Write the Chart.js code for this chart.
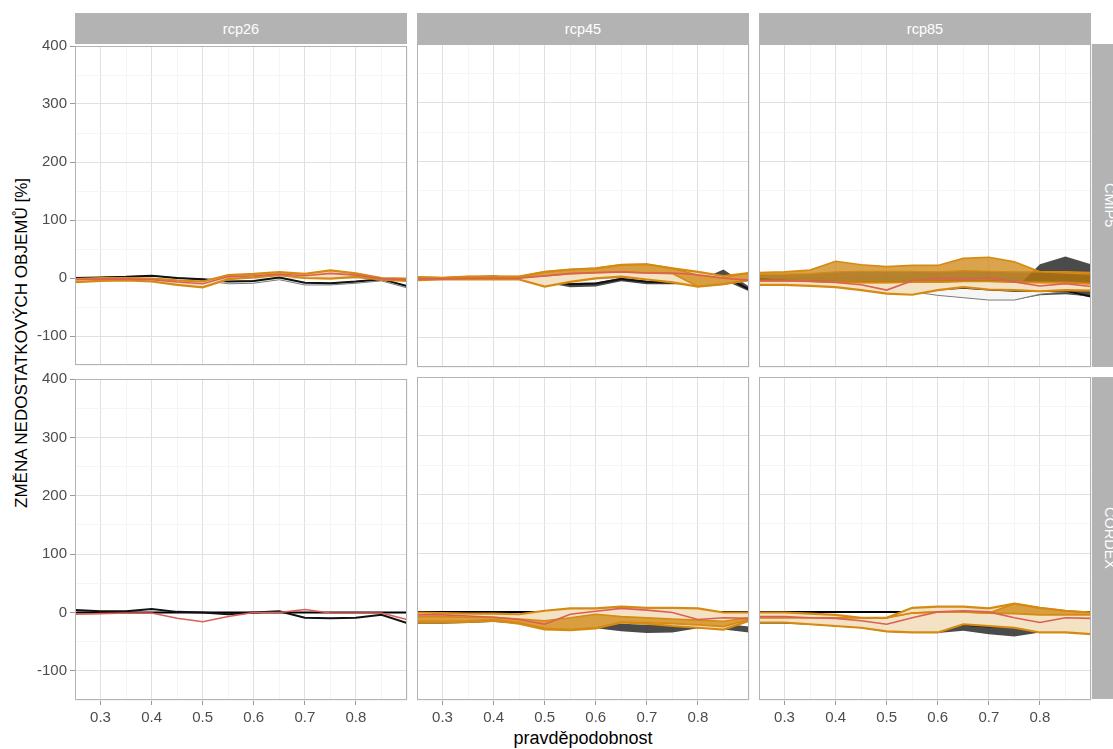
<!DOCTYPE html>
<html>
<head>
<meta charset="utf-8">
<script src="https://cdn.jsdelivr.net/npm/chart.js@4"></script>
<style>
  html, body { margin: 0; padding: 0; background: #fff; }
  body { width: 1113px; height: 749px; overflow: hidden; position: relative; font-family: "Liberation Sans", Arial, sans-serif; }
  .panel { position: absolute; }
  .strip-top { position: absolute; top: 13px; height: 31px; width: 332px; background: #b3b3b3; color: #fff;
               font-size: 14.5px; display: flex; align-items: center; justify-content: center; }
  .strip-right { position: absolute; left: 1092px; width: 36px; background: #b3b3b3; color: #fff; font-size: 14.5px;
                 writing-mode: vertical-rl; display: flex; align-items: center; justify-content: center; }
  #ytitle { position: absolute; left: 22px; top: 343px; transform: translate(-50%, -50%) rotate(-90deg);
            white-space: nowrap; font-size: 17px; color: #000; }
  #xtitle { position: absolute; left: 583px; top: 738px; transform: translate(-50%, -50%);
            white-space: nowrap; font-size: 18px; color: #000; }
</style>
</head>
<body>
<div id="ytitle">ZMĚNA NEDOSTATKOVÝCH OBJEMŮ [%]</div>
<div id="xtitle">pravděpodobnost</div>
<script>
// facets and axis breaks
const rcps = ['rcp26', 'rcp45', 'rcp85'];
const models = ['CMIP5', 'CORDEX'];
const probs = [0.25, 0.30, 0.35, 0.40, 0.45, 0.50, 0.55, 0.60, 0.65, 0.70, 0.75, 0.80, 0.85, 0.90];
const xTicks = [0.3, 0.4, 0.5, 0.6, 0.7, 0.8];
const yTicks = [-100, 0, 100, 200, 300, 400];

// CMIP5 / rcp26
const cmip26Black = [0, 1, 2, 4, 0, -2, -6, -5, 1, -8, -9, -6, -2, -14];
const cmip26WhiteLo = [0, 1, 2, 4, 0, -4, -10, -9, -3, -12, -12, -9, -5, -17];
const cmip26BandLo = [-7, -5, -4, -6, -12, -16, -2, 1, 5, 0, -1, 2, -3, -5];
const cmip26BandHi = [-2, 0, 0, -1, -4, -6, 5, 7, 10, 7, 13, 8, 0, -1];
const cmip26Red = [-3, -2, -2, -3, -7, -10, 2, 4, 7, 4, 8, 5, -1, -3];

// CMIP5 / rcp45
const cmip45Black = [0, 1, 3, 4, 1, -3, -9, -8, 0, -5, -6, -6, 5, -18];
const cmip45GreyLo = [0, 1, 3, 4, 1, -6, -14, -13, -4, -9, -9, -9, -2, -21];
const cmip45GreyHi = [0, 1, 3, 4, 1, -2, -7, -6, 2, -3, -4, -3, 16, -13];
const cmip45BandLo = [-2, -1, -1, -1, -1, -13, -5, 1, 4, -1, -6, -13, -9, -2];
const cmip45BandHi = [3, 2, 4, 4, 4, 12, 16, 18, 24, 25, 18, 12, 5, 10];
const cmip45GoldLo = [2, 2, 3, 3, 3, 5, 9, 10, 12, 10, 9, -13, -9, -2];
const cmip45GoldHi = [3, 2, 4, 4, 4, 12, 16, 18, 24, 25, 18, 6, 2, 10];
const cmip45Red = [0, 0, 1, 1, 1, 5, 9, 11, 12, 10, 10, 7, 1, -2];

// CMIP5 / rcp85
const cmip85Black = [0, -3, -5, -7, -10, -14, -16, -18, -15, -18, -20, -20, -20, -30];
const cmip85WhiteLo = [0, -3, -5, -7, -10, -15, -22, -28, -32, -36, -36, -26, -22, -31];
const cmip85GreyLo = [-20, -20, -20, -20, -20, -20, -20, -20, -20, -22, -36, -28, -26, -30];
const cmip85GreyHi = [-20, -20, -20, -20, -20, -20, -20, -20, -20, -22, -18, 25, 38, 25];
const cmip85BandLo = [-10, -10, -12, -14, -19, -25, -27, -19, -14, -18, -19, -21, -19, -20];
const cmip85BandHi = [-3, -3, -4, -5, -6, -6, -5, -5, -4, -4, -5, -6, -6, -8];
const cmip85GoldLo = [-3, -3, -4, -5, -6, -6, -5, -5, -4, -4, -5, -6, -6, -8];
const cmip85GoldHi = [11, 12, 15, 30, 24, 21, 23, 23, 35, 37, 29, 12, 12, 11];
const cmip85DarkLo = [-3, -3, -4, -5, -6, -6, -5, -5, -4, -4, -5, -6, -6, -8];
const cmip85DarkHi = [8, 8, 9, 12, 13, 13, 13, 12, 14, 13, 12, 12, 10, 8];
const cmip85Red = [-3, -3, -4, -6, -10, -19, -3, 1, 0, 2, -5, -12, -8, -13];

// CORDEX reference line
const cordexZero = [0, 0, 0, 0, 0, 0, 0, 0, 0, 0, 0, 0, 0, 0];

// CORDEX / rcp26
const cordex26Black = [4, 2, 2, 6, 1, 0, -3, 0, 2, -9, -10, -9, -4, -18];
const cordex26Red = [-3, -2, -1, -1, -10, -16, -7, 0, 0, 5, -1, -1, -1, -12];

// CORDEX / rcp45
const cordex45GreyLo = [-20, -20, -19, -17, -20, -30, -30, -28, -33, -36, -35, -28, -30, -35];
const cordex45GreyHi = [-14, -14, -13, -12, -15, -25, -25, -20, -20, -22, -22, -18, -20, -25];
const cordex45BandLo = [-18, -18, -17, -15, -20, -30, -31, -28, -18, -20, -24, -27, -30, -15];
const cordex45BandHi = [-1, -2, -3, -3, -4, 2, 6, 6, 9, 7, 7, 6, -1, -1];
const cordex45GoldLo = [-16, -16, -15, -13, -18, -28, -30, -27, -18, -18, -20, -22, -25, -13];
const cordex45GoldHi = [-8, -8, -9, -9, -12, -15, -10, -4, -8, -10, -12, -14, -16, -10];
const cordex45Red = [-5, -5, -7, -9, -13, -21, -4, 1, 6, 3, -1, -13, -10, -11];

// CORDEX / rcp85
const cordex85Black = [-14, -14, -15, -16, -18, -22, -22, -21, -22, -25, -24, -22, -22, -25];
const cordex85GreyLo = [-20, -20, -22, -25, -28, -34, -36, -36, -32, -38, -42, -35, -36, -38];
const cordex85GreyHi = [-14, -14, -15, -16, -18, -22, -22, -20, -20, -22, -25, -20, -22, -25];
const cordex85BandLo = [-18, -18, -21, -24, -27, -33, -35, -35, -21, -24, -27, -35, -35, -38];
const cordex85BandHi = [-1, -1, -3, -5, -10, -10, 7, 9, 9, 6, 14, 7, 2, -1];
const cordex85GoldLo = [-10, -10, -10, -10, -10, -10, -2, 0, 0, -2, -3, -5, -5, -5];
const cordex85GoldHi = [-10, -10, -10, -10, -10, -10, -2, 0, 0, -2, 14, 7, 2, -1];
const cordex85Red = [-8, -8, -10, -11, -15, -21, -10, 0, 2, 0, -10, -18, -10, -11];

// which series go in which facet
const panels = [
  { row: 0, col: 0, black: cmip26Black, white: [cmip26WhiteLo, cmip26Black], band: [cmip26BandLo, cmip26BandHi], red: cmip26Red },
  { row: 0, col: 1, black: cmip45Black, grey: [cmip45GreyLo, cmip45GreyHi], band: [cmip45BandLo, cmip45BandHi],
    gold: [cmip45GoldLo, cmip45GoldHi], red: cmip45Red },
  { row: 0, col: 2, black: cmip85Black, white: [cmip85WhiteLo, cmip85Black], grey: [cmip85GreyLo, cmip85GreyHi],
    band: [cmip85BandLo, cmip85BandHi], gold: [cmip85GoldLo, cmip85GoldHi], dark: [cmip85DarkLo, cmip85DarkHi], red: cmip85Red },
  { row: 1, col: 0, zero: cordexZero, black: cordex26Black, red: cordex26Red },
  { row: 1, col: 1, zero: cordexZero, grey: [cordex45GreyLo, cordex45GreyHi], band: [cordex45BandLo, cordex45BandHi],
    gold: [cordex45GoldLo, cordex45GoldHi], red: cordex45Red },
  { row: 1, col: 2, zero: cordexZero, black: cordex85Black, grey: [cordex85GreyLo, cordex85GreyHi],
    band: [cordex85BandLo, cordex85BandHi], gold: [cordex85GoldLo, cordex85GoldHi], red: cordex85Red }
];

// colours
const ORANGE = '#d68a12';
const RED = '#dc5f57';
const BEIGE = 'rgb(243,226,196)';
const GOLD = 'rgba(208,138,26,0.78)';
const DARKGOLD = 'rgba(140,88,8,0.45)';
const GREYFILL = 'rgba(35,35,35,0.82)';
const TICK = '#4d4d4d';

// facet geometry
const PANEL_LEFT = [75, 417, 759];
const PANEL_TOP = [44, 377];
const PW = 332, PH = 323;
const PAD = 10;

function isAt(v, list) {
  return list.some(t => Math.abs(t - v) < 1e-6);
}

function buildDatasets(p) {
  const ds = [];
  const pts = arr => probs.map((x, i) => ({ x: x, y: arr[i] }));
  function line(arr, color, width, order) {
    ds.push({ data: pts(arr), borderColor: color, borderWidth: width, pointRadius: 0, fill: false, tension: 0, order: order });
    return ds.length - 1;
  }
  function ribbon(pair, fillColor, edge, edgeWidth, order) {
    const lo = line(pair[0], edge, edgeWidth, order);
    ds.push({
      data: pts(pair[1]), borderColor: edge, borderWidth: edgeWidth, pointRadius: 0, tension: 0,
      backgroundColor: fillColor, fill: { target: lo, above: fillColor, below: fillColor }, order: order
    });
  }
  if (p.grey) ribbon(p.grey, GREYFILL, 'rgba(0,0,0,0)', 0, 70);
  if (p.white) ribbon(p.white, '#f6f6f6', '#7a7a7a', 1, 60);
  if (p.zero) line(p.zero, '#000', 2, 55);
  if (p.black) line(p.black, '#111', 2, 50);
  if (p.band) ribbon(p.band, BEIGE, ORANGE, 2.2, 40);
  if (p.gold) ribbon(p.gold, GOLD, ORANGE, 1.6, 30);
  if (p.dark) ribbon(p.dark, DARKGOLD, ORANGE, 1.2, 20);
  if (p.red) line(p.red, RED, 1.6, 10);
  return ds;
}

const panelBorder = {
  id: 'panelBorder',
  afterDraw(chart) {
    const a = chart.chartArea;
    const ctx = chart.ctx;
    ctx.save();
    ctx.strokeStyle = '#b3b3b3';
    ctx.lineWidth = 1;
    ctx.strokeRect(Math.round(a.left) + 0.5, Math.round(a.top) + 0.5, Math.round(a.right - a.left) - 1, Math.round(a.bottom - a.top) - 1);
    ctx.restore();
  }
};

function makePanel(p) {
  const yW = p.col === 0 ? 75 : 0;
  const xH = p.row === 1 ? 32 : 0;
  const w = yW + PW + 2 * PAD;
  const h = PH + xH + 2 * PAD;
  const box = document.createElement('div');
  box.className = 'panel';
  box.style.left = (PANEL_LEFT[p.col] - yW - PAD) + 'px';
  box.style.top = (PANEL_TOP[p.row] - PAD) + 'px';
  box.style.width = w + 'px';
  box.style.height = h + 'px';
  const canvas = document.createElement('canvas');
  canvas.width = w;
  canvas.height = h;
  box.appendChild(canvas);
  document.body.appendChild(box);

  new Chart(canvas.getContext('2d'), {
    type: 'line',
    data: { datasets: buildDatasets(p) },
    options: {
      responsive: false,
      animation: false,
      layout: { padding: PAD },
      plugins: { legend: { display: false }, tooltip: { enabled: false } },
      scales: {
        x: {
          type: 'linear', min: 0.25, max: 0.9,
          border: { display: false },
          grid: {
            color: c => isAt(c.tick.value, xTicks) ? '#e0e0e0' : '#f0f0f0',
            lineWidth: c => isAt(c.tick.value, xTicks) ? 1 : 0.7,
            drawTicks: p.row === 1, tickLength: 5,
            tickColor: c => isAt(c.tick.value, xTicks) ? '#9a9a9a' : 'rgba(0,0,0,0)'
          },
          ticks: {
            display: p.row === 1, stepSize: 0.05, autoSkip: false, maxRotation: 0, padding: 4,
            color: TICK, font: { family: 'Liberation Sans', size: 15 },
            callback: v => isAt(v, xTicks) ? v.toFixed(1) : ''
          },
          afterFit: s => { s.height = xH; }
        },
        y: {
          type: 'linear', min: -150, max: 400,
          border: { display: false },
          grid: {
            color: c => isAt(c.tick.value, yTicks) ? '#e0e0e0' : '#f0f0f0',
            lineWidth: c => isAt(c.tick.value, yTicks) ? 1 : 0.7,
            drawTicks: p.col === 0, tickLength: 5,
            tickColor: c => isAt(c.tick.value, yTicks) ? '#9a9a9a' : 'rgba(0,0,0,0)'
          },
          ticks: {
            display: p.col === 0, stepSize: 50, autoSkip: false, padding: 3,
            color: TICK, font: { family: 'Liberation Sans', size: 15 },
            callback: v => isAt(v, yTicks) ? String(v) : ''
          },
          afterFit: s => { s.width = yW; }
        }
      }
    },
    plugins: [panelBorder]
  });
}

// strips
rcps.forEach((name, i) => {
  const s = document.createElement('div');
  s.className = 'strip-top';
  s.style.left = PANEL_LEFT[i] + 'px';
  s.textContent = name;
  document.body.appendChild(s);
});
models.forEach((name, i) => {
  const s = document.createElement('div');
  s.className = 'strip-right';
  s.style.top = PANEL_TOP[i] + 'px';
  s.style.height = (i === 0 ? PH : PH - 1) + 'px';
  s.textContent = name;
  document.body.appendChild(s);
});

panels.forEach(makePanel);
</script>
</body>
</html>
